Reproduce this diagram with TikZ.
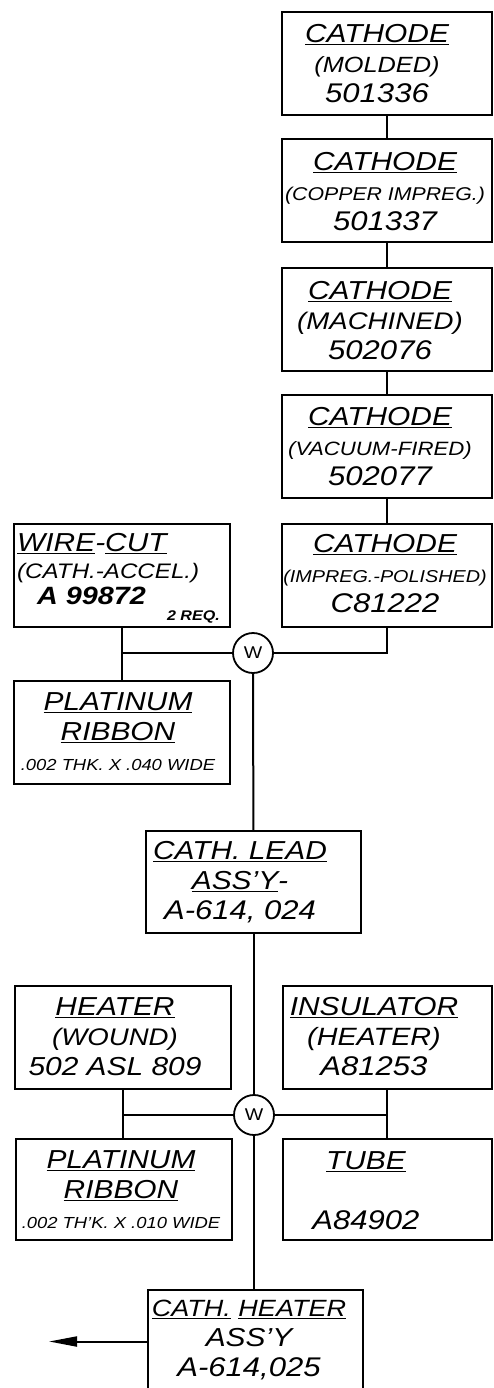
\documentclass[tikz,border=0pt]{standalone}
\usepackage{fontspec}
\setmainfont{Liberation Sans}[FakeStretch=1.15]
\usetikzlibrary{arrows.meta}
\newcommand{\numsz}{\fontsize{27}{30}\selectfont}
\newcommand{\smsz}{\fontsize{16}{30}\selectfont}
\newcommand{\fsz}[1]{\fontsize{#1}{30}\selectfont}

\begin{document}
\begin{tikzpicture}[x=1pt,y=-1pt,
  part/.style={draw,line width=2pt,minimum width=216,minimum height=103,inner sep=0pt},
  lbl/.style={align=center,inner sep=0pt,font=\itshape\fontsize{26}{30}\selectfont},
  weld/.style={draw,circle,line width=1.8pt,minimum size=40,inner sep=0pt,font=\fontsize{17}{17}\selectfont},
  link/.style={line width=2pt}]
\useasboundingbox (0,0) rectangle (493,1388);
% cathode chain
\node[part,minimum width=209.5] (c1) at (386.75,63.5) {};
\node[part,minimum width=209.5] (c2) at (386.75,191) {};
\node[part,minimum width=209.5] (c3) at (386.75,319.5) {};
\node[part,minimum width=209.5] (c4) at (386.75,446) {};
\node[part,minimum width=209.5] (c5) at (386.75,575) {};
\node[lbl] (c1t) at (377,64) {\underline{CATHODE}\\{\fsz{22}(MOLDED)}\\\numsz 501336};
\node[lbl] (c2t) at (385,192) {\underline{CATHODE}\\{\fsz{18.5}(COPPER IMPREG.)}\\\numsz 501337};
\node[lbl] (c3t) at (380,321) {\underline{CATHODE}\\{\fsz{24}(MACHINED)}\\\numsz 502076};
\node[lbl] (c4t) at (380,447) {\underline{CATHODE}\\{\fsz{19.3}(VACUUM-FIRED)}\\\numsz 502077};
\node[lbl] (c5t) at (385,574) {\underline{CATHODE}\\{\fsz{17.2}(IMPREG.-POLISHED)}\\\numsz C81222};
\draw[link] (c1) -- (c2);
\draw[link] (c2) -- (c3);
\draw[link] (c3) -- (c4);
\draw[link] (c4) -- (c5);

% lead assembly
\node[part] (wc) at (122,575) {};
\node[lbl,align=left,anchor=west] (wct) at (17,569) {\underline{WIRE}-\underline{CUT}\\[-3pt]{\fsz{21}(CATH.-ACCEL.)}\\[-4pt]\hspace*{20pt}{\fsz{25}\bfseries A 99872}};
\node[lbl,font=\bfseries\itshape\fontsize{14}{14}\selectfont,anchor=south east] (wreq) at (220,623) {2 REQ.};
\node[part] (pr1) at (122,732) {};
\node[lbl] (pr1t) at (118,732) {\underline{PLATINUM}\\\underline{RIBBON}\\\smsz .002 THK. X .040 WIDE};
\node[weld] (w1) at (253,653) {W};
\draw[link] (wc) -- (pr1);
\draw[link] (wc.south |- w1) -- (w1.west);
\draw[link] (w1.east) -| (c5.south);
\node[part,minimum width=215,minimum height=102] (cl) at (253.5,882) {};
\node[lbl] (clt) at (240,882) {\underline{CATH. LEAD}\\\underline{ASS'Y}-\\\numsz A-614, 024};
\draw[link] (w1) -- (cl);

% heater assembly
\node[part] (ht) at (122.5,1037.5) {};
\node[lbl] (htt) at (115,1037) {\underline{HEATER}\\{\fsz{24}(WOUND)}\\{\fsz{26}502 ASL 809}};
\node[part,minimum width=209.5] (ins) at (387.25,1037.5) {};
\node[lbl] (inst) at (374,1037) {\underline{INSULATOR}\\{\fsz{25}(HEATER)}\\\numsz A81253};
\node[part,minimum height=101] (pr2) at (123.5,1189.5) {};
\node[lbl] (pr2t) at (121,1190) {\underline{PLATINUM}\\\underline{RIBBON}\\\smsz .002 TH'K. X .010 WIDE};
\node[part,minimum width=209.5,minimum height=101] (tb) at (387.25,1189.5) {};
\node[lbl] (tbt) at (366,1191) {\underline{TUBE}\\[30pt]\numsz A84902};
\node[weld] (w2) at (254,1115) {W};
\draw[link] (cl.south) -- (cl.south |- w2.north);
\draw[link] (ht.south) -- (ht.south |- pr2.north);
\draw[link] (ht.south |- w2) -- (w2.west);
\draw[link] (w2.east) -- (ins.south |- w2);
\draw[link] (ins) -- (tb);
\node[part,minimum width=215] (ch) at (255.5,1341.5) {};
\node[lbl] (cht) at (249,1340) {{\fsz{23.5}\underline{CATH.} \underline{HEATER}}\\ASS'Y\\\numsz A-614,025};
\draw[link] (w2.south) -- (w2.south |- ch.north);
\coordinate (out) at (49,1341.5);
\draw[link,-{Triangle[length=28pt,width=10pt]}] (ch.west) -- (out);
\end{tikzpicture}
\end{document}
